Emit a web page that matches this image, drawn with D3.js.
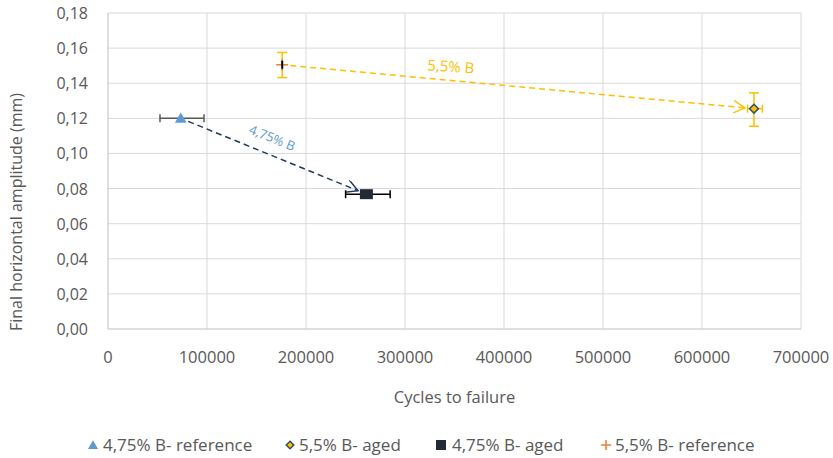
<!DOCTYPE html>
<html>
<head>
<meta charset="utf-8">
<script src="https://cdn.jsdelivr.net/npm/d3@7"></script>
<style>
  body { margin: 0; background: #fff; }
  svg text { font-family: "Open Sans", Lato, sans-serif; }
</style>
</head>
<body>
<div id="chart"></div>
<script>
// Series data
const seriesNames = ['4,75% B- reference', '5,5% B- aged', '4,75% B- aged', '5,5% B- reference'];
const cycles = [73500, 652500, 261000, 176000];
const amplitude = [0.120, 0.1255, 0.0768, 0.1505];
const xErrLow = [52500, 646000, 240000, 176000];
const xErrHigh = [97000, 661000, 285000, 176000];
const yErrLow = [0.120, 0.1155, 0.0768, 0.1432];
const yErrHigh = [0.120, 0.1345, 0.0768, 0.1575];
const xTicks = [0, 100000, 200000, 300000, 400000, 500000, 600000, 700000];
const yTicks = [0, 0.02, 0.04, 0.06, 0.08, 0.10, 0.12, 0.14, 0.16, 0.18];

// Arrows between reference and aged points
const arrows = [
  { from: 0, to: 2, label: '4,75% B', color: '#1f3864', labelColor: '#5b9bd5' },
  { from: 3, to: 1, label: '5,5% B', color: '#ffc000', labelColor: '#ffc000' }
];

const width = 833, height = 458;
const margin = { top: 13, right: 32, bottom: 129, left: 108 };

const svg = d3.select('#chart').append('svg')
  .attr('width', width)
  .attr('height', height);

const x = d3.scaleLinear().domain([0, 700000]).range([margin.left, width - margin.right]);
const y = d3.scaleLinear().domain([0, 0.18]).range([height - margin.bottom, margin.top]);

const fmtY = v => d3.format('.2f')(v).replace('.', ',');

// Gridlines
svg.append('g').selectAll('line')
  .data(yTicks.slice(1))
  .join('line')
  .attr('x1', x(0)).attr('x2', x(700000))
  .attr('y1', d => y(d)).attr('y2', d => y(d))
  .attr('stroke', '#d9d9d9').attr('stroke-width', 1);

svg.append('g').selectAll('line')
  .data(xTicks.slice(1))
  .join('line')
  .attr('x1', d => x(d)).attr('x2', d => x(d))
  .attr('y1', y(0)).attr('y2', y(0.18))
  .attr('stroke', '#d9d9d9').attr('stroke-width', 1);

// Axis lines
svg.append('line')
  .attr('x1', x(0)).attr('x2', x(700000))
  .attr('y1', y(0)).attr('y2', y(0))
  .attr('stroke', '#bfbfbf');
svg.append('line')
  .attr('x1', x(0)).attr('x2', x(0))
  .attr('y1', y(0)).attr('y2', y(0.18))
  .attr('stroke', '#bfbfbf');

// Tick labels
svg.append('g').selectAll('text')
  .data(yTicks)
  .join('text')
  .attr('x', 88)
  .attr('y', d => y(d) + 6)
  .attr('text-anchor', 'end')
  .attr('fill', '#595959')
  .attr('font-size', '16px')
  .text(fmtY);

svg.append('g').selectAll('text')
  .data(xTicks)
  .join('text')
  .attr('x', d => x(d))
  .attr('y', 363)
  .attr('text-anchor', 'middle')
  .attr('fill', '#595959')
  .attr('font-size', '16.5px')
  .text(d => d);

// Axis titles
svg.append('text')
  .attr('x', x(350000))
  .attr('y', 403)
  .attr('text-anchor', 'middle')
  .attr('fill', '#595959')
  .attr('font-size', '16.5px')
  .text('Cycles to failure');

svg.append('text')
  .attr('transform', 'translate(22, 212) rotate(-90)')
  .attr('text-anchor', 'middle')
  .attr('fill', '#595959')
  .attr('font-size', '16px')
  .text('Final horizontal amplitude (mm)');

// Arrows
const defs = svg.append('defs');
arrows.forEach((a, i) => {
  defs.append('marker')
    .attr('id', 'arrow' + i)
    .attr('viewBox', '0 0 12 12')
    .attr('refX', 11).attr('refY', 6)
    .attr('markerWidth', 13).attr('markerHeight', 13)
    .attr('markerUnits', 'userSpaceOnUse')
    .attr('orient', 'auto')
    .append('path')
    .attr('d', 'M0,0 L11,6 L0,12')
    .attr('fill', 'none')
    .attr('stroke', a.color)
    .attr('stroke-width', 1.3);

  const x1 = x(cycles[a.from]), y1 = y(amplitude[a.from]);
  const x2 = x(cycles[a.to]), y2 = y(amplitude[a.to]);
  const len = Math.hypot(x2 - x1, y2 - y1);
  const ux = (x2 - x1) / len, uy = (y2 - y1) / len;
  const startGap = 8, endGap = 9;

  svg.append('line')
    .attr('x1', x1 + ux * startGap).attr('y1', y1 + uy * startGap)
    .attr('x2', x2 - ux * endGap).attr('y2', y2 - uy * endGap)
    .attr('stroke', a.color)
    .attr('stroke-width', 1.5)
    .attr('stroke-dasharray', '6,4')
    .attr('marker-end', `url(#arrow${i})`);
});

// Arrow labels
const ang0 = Math.atan2(y(amplitude[2]) - y(amplitude[0]), x(cycles[2]) - x(cycles[0])) * 180 / Math.PI;
svg.append('text')
  .attr('transform', `translate(${x(164000)}, ${y(0.1065)}) rotate(${ang0})`)
  .attr('text-anchor', 'middle')
  .attr('fill', arrows[0].labelColor)
  .attr('font-size', '13px')
  .text(arrows[0].label);

svg.append('text')
  .attr('transform', `translate(${x(346000)}, ${y(0.1465)}) rotate(4)`)
  .attr('text-anchor', 'middle')
  .attr('fill', arrows[1].labelColor)
  .attr('font-size', '15px')
  .text(arrows[1].label);

// Error bars
const errColors = ['#595959', '#ffc000', '#000000', '#ffc000'];
const cap = 4;
seriesNames.forEach((name, i) => {
  const g = svg.append('g');
  if (xErrHigh[i] > xErrLow[i]) {
    const yy = y(amplitude[i]);
    g.append('line')
      .attr('x1', x(xErrLow[i])).attr('x2', x(xErrHigh[i]))
      .attr('y1', yy).attr('y2', yy)
      .attr('stroke', errColors[i]).attr('stroke-width', 1.5);
    [xErrLow[i], xErrHigh[i]].forEach(v => {
      g.append('line')
        .attr('x1', x(v)).attr('x2', x(v))
        .attr('y1', yy - cap).attr('y2', yy + cap)
        .attr('stroke', errColors[i]).attr('stroke-width', 1.5);
    });
  }
  if (yErrHigh[i] > yErrLow[i]) {
    const xx = x(cycles[i]);
    g.append('line')
      .attr('x1', xx).attr('x2', xx)
      .attr('y1', y(yErrLow[i])).attr('y2', y(yErrHigh[i]))
      .attr('stroke', '#ffc000').attr('stroke-width', 1.5);
    [yErrLow[i], yErrHigh[i]].forEach(v => {
      g.append('line')
        .attr('x1', xx - cap - 1).attr('x2', xx + cap + 1)
        .attr('y1', y(v)).attr('y2', y(v))
        .attr('stroke', '#ffc000').attr('stroke-width', 1.5);
    });
  }
});

// Markers
function drawMarker(g, i, cx, cy, s) {
  if (i === 0) {
    g.append('path')
      .attr('d', d3.symbol(d3.symbolTriangle, 60 * s * s)())
      .attr('transform', `translate(${cx},${cy + 1})`)
      .attr('fill', '#5b9bd5');
  } else if (i === 1) {
    g.append('path')
      .attr('d', d3.symbol(d3.symbolDiamond2, 50 * s * s)())
      .attr('transform', `translate(${cx},${cy})`)
      .attr('fill', '#ffc000')
      .attr('stroke', '#2f5073')
      .attr('stroke-width', 1.5);
  } else if (i === 2) {
    g.append('rect')
      .attr('x', cx - 6.5 * s).attr('y', cy - 5 * s)
      .attr('width', 13 * s).attr('height', 10 * s)
      .attr('fill', '#222a35');
  } else {
    g.append('line')
      .attr('x1', cx - 6 * s).attr('x2', cx + 6 * s)
      .attr('y1', cy).attr('y2', cy)
      .attr('stroke', '#ed7d31').attr('stroke-width', 1.5);
    g.append('line')
      .attr('x1', cx).attr('x2', cx)
      .attr('y1', cy - 6 * s).attr('y2', cy + 6 * s)
      .attr('stroke', '#ed7d31').attr('stroke-width', 1.5);
  }
}

seriesNames.forEach((name, i) => {
  const g = svg.append('g');
  drawMarker(g, i, x(cycles[i]), y(amplitude[i]), 1);
  if (i === 3) {
    g.append('line')
      .attr('x1', x(cycles[i])).attr('x2', x(cycles[i]))
      .attr('y1', y(amplitude[i]) - 4).attr('y2', y(amplitude[i]) + 4)
      .attr('stroke', '#000').attr('stroke-width', 2);
  }
});

// Legend
const legendMarkX = [93, 290, 441, 606];
const legendTextX = [103, 299, 452, 615];
const legend = svg.append('g');
seriesNames.forEach((name, i) => {
  const g = legend.append('g');
  const cy = 445;
  if (i === 2) {
    g.append('rect')
      .attr('x', legendMarkX[i] - 5).attr('y', cy - 5)
      .attr('width', 10).attr('height', 10)
      .attr('fill', '#222a35');
  } else {
    drawMarker(g, i, legendMarkX[i], cy, 0.85);
  }
  g.append('text')
    .attr('x', legendTextX[i])
    .attr('y', cy + 6)
    .attr('fill', '#595959')
    .attr('font-size', '17px')
    .text(name);
});
</script>
</body>
</html>
